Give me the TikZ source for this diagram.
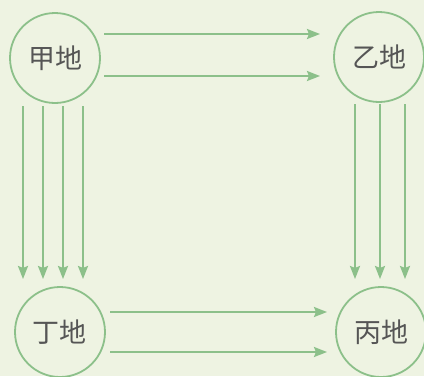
\documentclass[tikz,border=0pt]{standalone}
\usepackage{fontspec}
\newfontfamily\cjk{Noto Sans CJK SC}
\usetikzlibrary{arrows.meta}
\definecolor{bgc}{HTML}{EEF3E2}
\definecolor{lnc}{HTML}{8CC08A}
\definecolor{txc}{HTML}{555555}
\begin{document}
\begin{tikzpicture}[x=1pt,y=-1pt,
  place/.style={circle,draw=lnc,line width=1.8pt,minimum size=90pt,inner sep=0pt,text=txc,font=\cjk\fontsize{27}{27}\selectfont},
  flow/.style={draw=lnc,line width=2.2pt,-{Stealth[length=13pt,width=10pt,inset=2pt]}}]
\fill[bgc] (0,0) rectangle (424,376);
\useasboundingbox (0,0) rectangle (424,376);
\node[place] (jia) at (55,58) {甲地};
\node[place] (yi) at (379,57) {乙地};
\node[place] (ding) at (60,332) {丁地};
\node[place] (bing) at (381,332) {丙地};
% top arrows
\coordinate (t1s) at (104,34); \coordinate (t1e) at (320,34);
\coordinate (t2s) at (104,76); \coordinate (t2e) at (320,76);
\draw[flow] (t1s) -- (t1e);
\draw[flow] (t2s) -- (t2e);
% bottom arrows
\coordinate (b1s) at (110,312); \coordinate (b1e) at (327,312);
\coordinate (b2s) at (110,352); \coordinate (b2e) at (327,352);
\draw[flow] (b1s) -- (b1e);
\draw[flow] (b2s) -- (b2e);
% left verticals
\foreach \x [count=\i] in {23,43,63,83}{
  \coordinate (l\i s) at (\x,106); \coordinate (l\i e) at (\x,279);
  \draw[flow] (l\i s) -- (l\i e);
}
% right verticals
\foreach \x [count=\i] in {355,380,405}{
  \coordinate (r\i s) at (\x,104); \coordinate (r\i e) at (\x,279);
  \draw[flow] (r\i s) -- (r\i e);
}
\end{tikzpicture}
\end{document}
